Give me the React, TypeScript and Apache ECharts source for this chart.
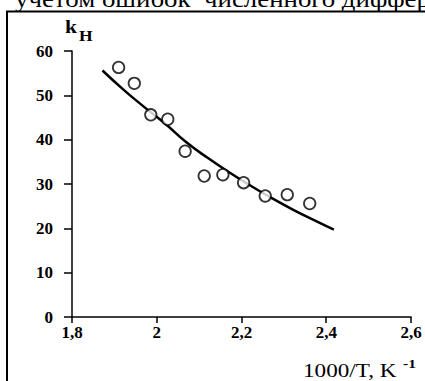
import React, { useEffect, useRef } from "react";
import * as echarts from "echarts";

// Measured points: 1000/T (K^-1) and k_H
const pointX = [1.91, 1.947, 1.986, 2.026, 2.067, 2.112, 2.156, 2.205, 2.256, 2.308, 2.361];
const pointY = [56.3, 52.7, 45.6, 44.6, 37.4, 31.8, 32.1, 30.3, 27.3, 27.6, 25.6];

// Fitted curve
const curveX = [1.872, 1.92, 1.97, 2.02, 2.07, 2.12, 2.17, 2.22, 2.27, 2.32, 2.37, 2.418];
const curveY = [55.6, 51.4, 47.4, 43.6, 39.4, 35.9, 32.7, 29.7, 26.9, 24.3, 21.9, 19.7];

// Axis ranges
const xMin = 1.8;
const xMax = 2.6;
const xStep = 0.2;
const yMin = 0;
const yMax = 60;
const yStep = 10;

const FONT = "Liberation Serif";

export default function App() {
  const ref = useRef<HTMLDivElement>(null);

  useEffect(() => {
    if (!ref.current) return;
    const chart = echarts.init(ref.current, null, { renderer: "svg" });

    const points = pointX.map((x, i) => [x, pointY[i]]);
    const curve = curveX.map((x, i) => [x, curveY[i]]);

    const axisLabel = {
      color: "#000",
      fontFamily: FONT,
      fontWeight: "bold" as const,
      fontSize: 17,
    };

    // text placed by its baseline; the font runs a little wide, hence scaleX
    const txt = (
      text: string,
      x: number,
      baseline: number,
      size: number,
      bold: boolean,
      scaleX: number
    ) => ({
      type: "text",
      x,
      y: baseline - 0.34 * size,
      scaleX,
      style: {
        text,
        fill: "#000",
        fontFamily: FONT,
        fontSize: size,
        fontWeight: bold ? "bold" : "normal",
        textAlign: "left",
        textVerticalAlign: "middle",
      },
    });

    chart.setOption({
      animation: false,
      backgroundColor: "#fff",
      textStyle: { fontFamily: FONT },
      grid: { left: 72, right: 14, top: 51, bottom: 64 },
      xAxis: {
        type: "value",
        min: xMin,
        max: xMax,
        interval: xStep,
        splitLine: { show: false },
        axisLine: { show: true, lineStyle: { color: "#000", width: 1.5 } },
        axisTick: { show: true, inside: false, length: 6, lineStyle: { color: "#000", width: 1.5 } },
        axisLabel: {
          ...axisLabel,
          margin: 7,
          formatter: (v: number) => String(Math.round(v * 10) / 10).replace(".", ","),
        },
      },
      yAxis: {
        type: "value",
        min: yMin,
        max: yMax,
        interval: yStep,
        splitLine: { show: false },
        axisLine: { show: true, lineStyle: { color: "#000", width: 1.5 } },
        axisTick: { show: true, inside: false, length: 8, lineStyle: { color: "#000", width: 1.5 } },
        axisLabel: { ...axisLabel, margin: 19 },
      },
      series: [
        {
          type: "line",
          data: curve,
          smooth: true,
          showSymbol: false,
          symbol: "none",
          lineStyle: { color: "#000", width: 2.5 },
          z: 2,
        },
        {
          type: "scatter",
          data: points,
          symbol: "circle",
          symbolSize: 11.5,
          itemStyle: { color: "#fff", borderColor: "#000", borderWidth: 1.8 },
          z: 3,
        },
      ],
      graphic: [
        // page frame
        {
          type: "line",
          shape: { x1: 6, y1: 11.5, x2: 425, y2: 11.5 },
          style: { stroke: "#000", lineWidth: 2 },
        },
        {
          type: "line",
          shape: { x1: 7, y1: 11, x2: 7, y2: 381 },
          style: { stroke: "#000", lineWidth: 2 },
        },
        // running text above the frame
        txt("учетом ошибок  численного дифференцирования", 15, 7, 24, false, 1.12),
        // y axis title: k_H
        txt("k", 65, 33, 18, true, 1.2),
        txt("H", 79, 41, 14, true, 1.25),
        // x axis title: 1000/T, K^-1
        txt("1000/T, K", 303, 377, 19, false, 1.22),
        txt("-1", 403, 368, 13, true, 1.2),
      ],
    });

    return () => chart.dispose();
  }, []);

  return (
    <div
      ref={ref}
      style={{ position: "fixed", left: 0, top: 0, width: 425, height: 381, background: "#fff" }}
    />
  );
}
